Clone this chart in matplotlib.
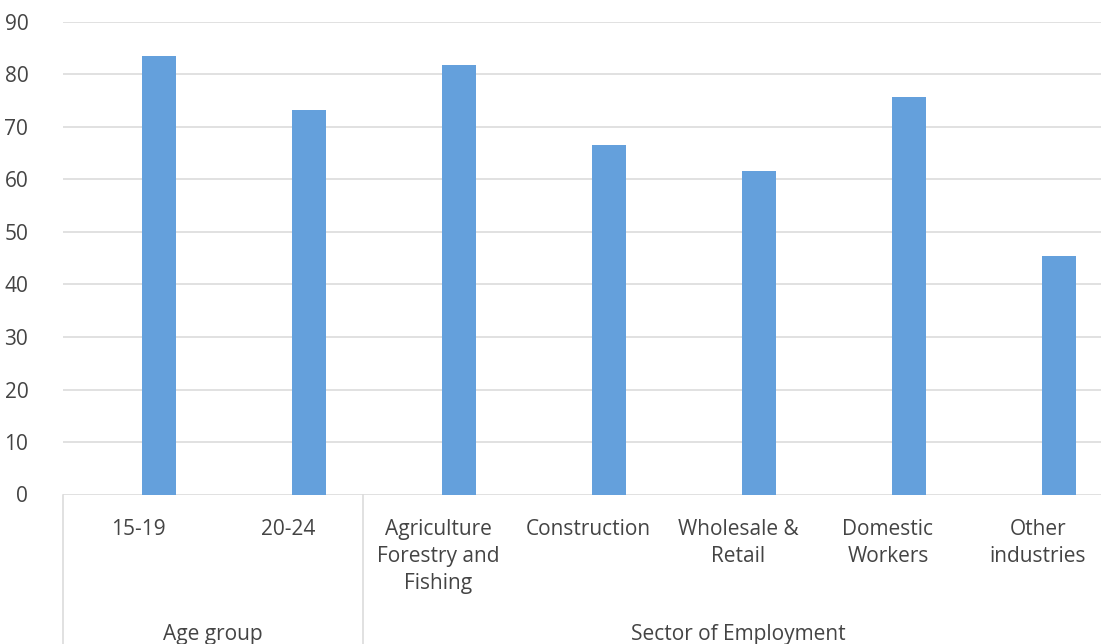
import matplotlib
matplotlib.use("Agg")
import matplotlib.pyplot as plt
from matplotlib.transforms import blended_transform_factory

categories = ["15-19", "20-24", "Agriculture\nForestry and\nFishing", "Construction",
              "Wholesale &\nRetail", "Domestic\nWorkers", "Other\nindustries"]
values = [83.5, 73.2, 81.8, 66.6, 61.7, 75.8, 45.4]
groups = ["Age group", "Sector of Employment"]
group_sizes = [2, 5]
yticks = [0, 10, 20, 30, 40, 50, 60, 70, 80, 90]

BAR = "#64A0DC"
GRID = "#D9D9D9"
TXT = "#444444"
FONT = "Open Sans"

W, H = 1101, 644
fig = plt.figure(figsize=(W / 100, H / 100), dpi=100)
left, right, top, bottom = 63, 1113, 22, 494.5
ax = fig.add_axes([left / W, (H - bottom) / H, (right - left) / W, (bottom - top) / H])

n = len(categories)
xs = [i + 0.143 for i in range(n)]
ax.bar(xs, values, width=0.227, color=BAR, zorder=3)

ax.set_xlim(-0.5, n - 0.5)
ax.set_ylim(0, 90)
ax.set_yticks(yticks)
ax.set_yticklabels([str(v) for v in yticks], fontfamily=FONT, fontsize=15, color=TXT)
ax.tick_params(axis="y", length=0, pad=25)
ax.set_xticks([])
for s in ax.spines.values():
    s.set_visible(False)
ax.yaxis.grid(True, color=GRID, linewidth=1.1, zorder=0)
ax.set_axisbelow(True)

trans = blended_transform_factory(ax.transData, fig.transFigure)
# category labels
for i, lab in enumerate(categories):
    ax.text(i, (H - 519) / H, lab, transform=trans, ha="center", va="top",
            fontfamily=FONT, fontsize=15, color=TXT, linespacing=1.38, clip_on=False)

# group labels and separators
tax = blended_transform_factory(ax.transData, ax.transAxes)
start = -0.5
bounds = [start]
for g, size in zip(groups, group_sizes):
    center = start + size / 2
    ax.text(center, (H - 624) / H, g, transform=trans, ha="center", va="top",
            fontfamily=FONT, fontsize=15, color=TXT, clip_on=False)
    start += size
    bounds.append(start)
for b in bounds:
    ax.plot([b, b], [0, -0.4], transform=tax, color=GRID, linewidth=1.1, clip_on=False)

fig.savefig("out.png", dpi=100)
